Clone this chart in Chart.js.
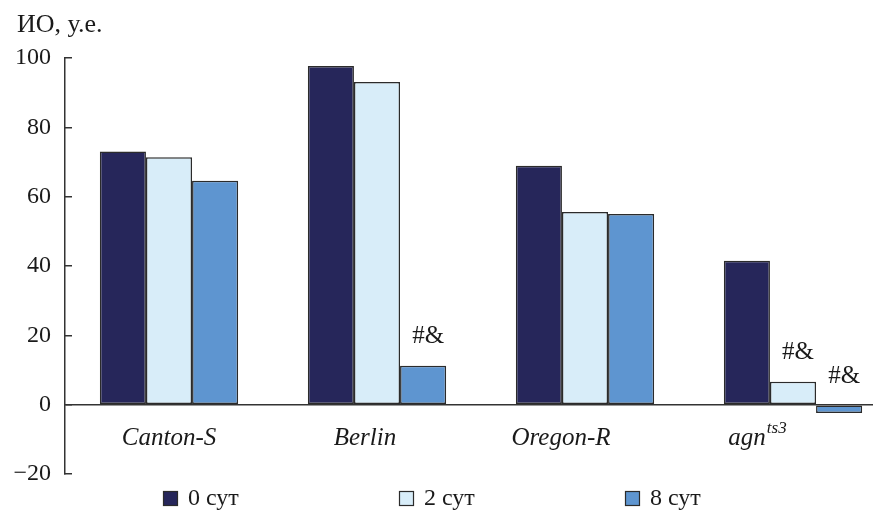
<!DOCTYPE html>
<html>
<head>
<meta charset="utf-8">
<script src="https://cdn.jsdelivr.net/npm/chart.js@4.4.1/dist/chart.umd.min.js"></script>
<style>
  html, body { margin: 0; padding: 0; background: #fff; overflow: hidden; }
  #wrap { width: 900px; height: 518px; }
</style>
</head>
<body>
<div id="wrap"><canvas id="c" width="900" height="518"></canvas></div>
<script>
// ---- data ----
const categories = ['Canton-S', 'Berlin', 'Oregon-R', 'agn^ts3'];
const seriesNames = ['0 сут', '2 сут', '8 сут'];
const values0 = [73, 97.7, 68.9, 41.5];
const values2 = [71.4, 93.1, 55.6, 6.6];
const values8 = [64.6, 11.2, 55.0, -2.4];
const notes0 = ['', '', '', ''];
const notes2 = ['', '', '', '#&'];
const notes8 = ['', '#&', '', '#&'];
const yTicks = [-20, 0, 20, 40, 60, 80, 100];
const axisTitle = 'ИО, у.е.';

const colors = ['#26265a', '#d8edf9', '#5e95d0'];
const edge = '#2b2b2b';
const SERIF = '"Liberation Serif", "DejaVu Serif", serif';

const extras = {
  id: 'extras',
  afterDatasetsDraw(chart) {
    const ctx = chart.ctx;
    const xs = chart.scales.x;
    ctx.save();
    ctx.fillStyle = '#1a1a1a';
    // title
    ctx.font = '26px ' + SERIF;
    ctx.textAlign = 'left';
    ctx.textBaseline = 'alphabetic';
    ctx.fillText(axisTitle, 17, 32);
    // notes above bars
    const notes = [notes0, notes2, notes8];
    ctx.font = '25px ' + SERIF;
    ctx.textAlign = 'center';
    ctx.textBaseline = 'middle';
    chart.data.datasets.forEach((ds, di) => {
      const meta = chart.getDatasetMeta(di);
      meta.data.forEach((el, i) => {
        const t = notes[di][i];
        if (!t) return;
        const top = Math.min(el.y, el.base);
        ctx.fillText(t, el.x + 5, top - 29);
      });
    });
    // category labels
    const ly = chart.scales.y.getPixelForValue(0) + 34;
    categories.forEach((lab, i) => {
      const parts = lab.split('^');
      const cx = xs.getPixelForValue(i) - 12 * i;
      ctx.font = 'italic 25px ' + SERIF;
      const w1 = ctx.measureText(parts[0]).width;
      let w2 = 0;
      if (parts[1]) { ctx.font = 'italic 17px ' + SERIF; w2 = ctx.measureText(parts[1]).width; }
      const x = cx - (w1 + w2) / 2;
      ctx.textAlign = 'left';
      ctx.textBaseline = 'middle';
      ctx.font = 'italic 25px ' + SERIF;
      ctx.fillText(parts[0], x, ly);
      if (parts[1]) {
        ctx.font = 'italic 17px ' + SERIF;
        ctx.fillText(parts[1], x + w1 + 1, ly - 10);
      }
    });
    // legend
    const legX = [163, 399, 625];
    const legY = 499;
    seriesNames.forEach((name, i) => {
      ctx.fillStyle = colors[i];
      ctx.fillRect(legX[i], legY - 8, 15, 15);
      ctx.strokeStyle = edge;
      ctx.lineWidth = 1.2;
      ctx.strokeRect(legX[i] + 0.5, legY - 7.5, 14, 14);
      ctx.fillStyle = '#1a1a1a';
      ctx.font = '24px ' + SERIF;
      ctx.textAlign = 'left';
      ctx.textBaseline = 'middle';
      ctx.fillText(name, legX[i] + 25, legY);
    });
    ctx.restore();
  }
};

new Chart(document.getElementById('c'), {
  type: 'bar',
  data: {
    labels: categories,
    datasets: [
      { label: seriesNames[0], data: values0, backgroundColor: colors[0] },
      { label: seriesNames[1], data: values2, backgroundColor: colors[1] },
      { label: seriesNames[2], data: values8, backgroundColor: colors[2] }
    ].map(d => Object.assign(d, { borderColor: edge, borderWidth: 1.5, borderSkipped: false }))
  },
  options: {
    responsive: false,
    animation: false,
    devicePixelRatio: 1,
    layout: { padding: { left: 0, right: 3, top: 58, bottom: 44 } },
    datasets: { bar: { categoryPercentage: 0.665, barPercentage: 1.0 } },
    plugins: { legend: { display: false }, title: { display: false }, tooltip: { enabled: false } },
    scales: {
      x: { display: false, offset: true },
      y: {
        min: -20, max: 100,
        afterFit: s => { s.width = 65; },
        afterBuildTicks: s => { s.ticks = yTicks.map(v => ({ value: v })); },
        border: { display: true, color: '#333', width: 1.5 },
        grid: {
          drawOnChartArea: true,
          color: c => (c.tick && c.tick.value === 0) ? '#333' : 'rgba(0,0,0,0)',
          lineWidth: 1.5,
          drawTicks: true,
          tickLength: -7,
          tickColor: '#333',
          tickWidth: 1.5
        },
        ticks: {
          padding: 21,
          color: '#1a1a1a',
          font: { family: SERIF, size: 24 },
          callback: v => String(v).replace('-', '\u2212')
        }
      }
    }
  },
  plugins: [extras]
});
</script>
</body>
</html>
